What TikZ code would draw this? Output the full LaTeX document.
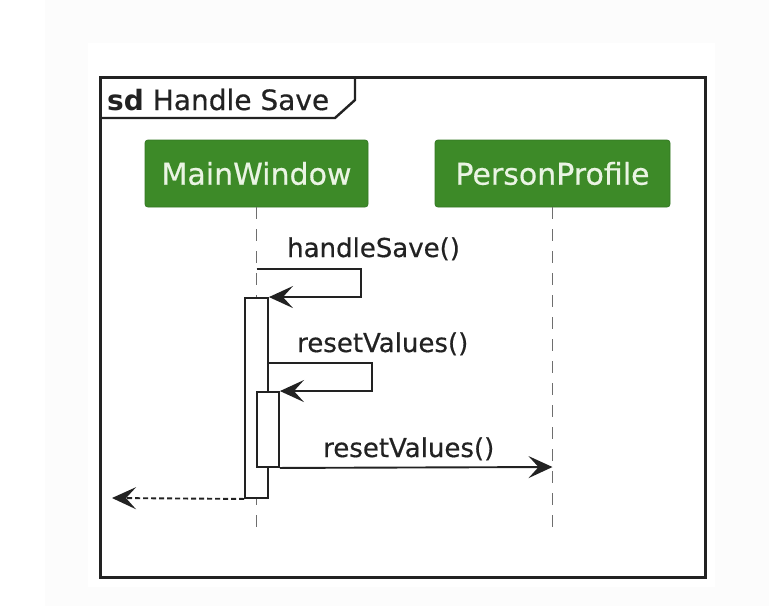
\documentclass[tikz,border=0pt]{standalone}
\usepackage{fontspec}
\setmainfont{DejaVu Sans}
\newfontface\medfont{DejaVu Sans}[FakeBold=0.5]
\usetikzlibrary{arrows.meta}
\definecolor{offwhite}{HTML}{FCFCFC}
\definecolor{actgreen}{HTML}{3D8A28}
\definecolor{actborder}{HTML}{347823}
\definecolor{acttext}{HTML}{EAF4E3}
\definecolor{ink}{HTML}{222222}
\definecolor{lifegrey}{HTML}{6E6E6E}
\tikzset{
  actor/.style={draw=actborder, fill=actgreen, rounded corners=3pt, line width=0.8pt,
    text=acttext, inner sep=0pt, minimum height=67pt,
    font=\medfont\fontsize{30}{34}\selectfont},
  lifeline/.style={draw=lifegrey, line width=1.8pt, dash pattern=on 12pt off 10pt},
  actbox/.style={draw=ink, fill=white, line width=1.9pt, inner sep=0pt, minimum width=22pt},
  msg/.style={draw=ink, line width=1.9pt, -{Stealth[length=24pt,width=22pt,inset=10pt]}},
  retmsg/.style={msg, dash pattern=on 5pt off 3pt},
  msglabel/.style={anchor=base west, inner sep=0pt, text=ink, font=\medfont\fontsize{26}{30}\selectfont},
  framebox/.style={draw=ink, line width=3pt}
}
\begin{document}
\begin{tikzpicture}[x=1pt,y=-1pt]
\useasboundingbox[fill=white] (0,0) rectangle (769,606);
\fill[offwhite] (45,0) rectangle (769,606);
\fill[white] (88,43) rectangle (715,587);
% frame
\draw[framebox] (100,77) rectangle (705,577);
\draw[ink, line width=2.4pt] (100,118) -- (335,118) -- (355,100) -- (355,77);
\node[anchor=base west, inner sep=0pt, text=ink, font=\medfont\fontsize{28}{30}\selectfont] (title) at (107,110) {{\fontspec{DejaVu Sans Bold}sd} Handle Save};
% actors
\node[actor, minimum width=223pt] (mw) at (256.5,173.5) {MainWindow};
\node[actor, minimum width=235pt] (pp) at (552.5,173.5) {PersonProfile};
\coordinate (mwend) at (256.5,532);
\coordinate (ppend) at (552.5,532);
\draw[lifeline] (mw.south) -- (mwend);
\draw[lifeline] (pp.south) -- (ppend);
% activations
\node[actbox, minimum width=23pt, minimum height=200pt] (a1) at (256.5,398) {};
\node[actbox, minimum height=75pt] (a2) at (268,429.5) {};
% messages
\coordinate (m1s) at (256.5,269);
\draw[msg] (m1s) -- (361,269) |- (a1.north east);
\node[msglabel] (l1) at (287,257) {handleSave()};
\coordinate (m2s) at (268,363);
\draw[msg] (m2s) -- (372,363) |- (a2.north east);
\node[msglabel] (l2) at (297,352) {resetValues()};
\coordinate (m3e) at (552.5,467);
\draw[msg] (a2.south east) -- (m3e);
\node[msglabel] (l3) at (323,457) {resetValues()};
\coordinate (ret) at (112,498);
\draw[retmsg] (a1.south west) -- (ret);
\end{tikzpicture}
\end{document}
